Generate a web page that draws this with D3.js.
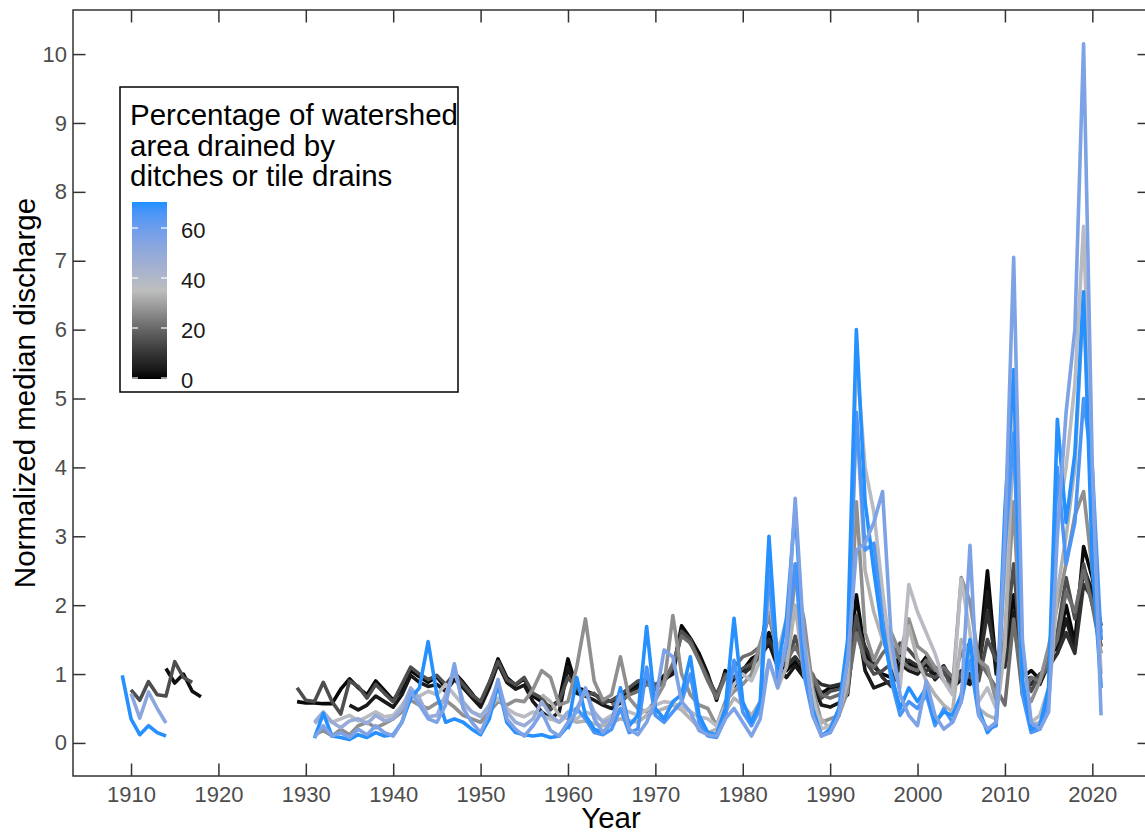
<!DOCTYPE html>
<html>
<head>
<meta charset="utf-8">
<script src="https://cdn.jsdelivr.net/npm/d3@7"></script>
<style>
  body { margin: 0; background: #fff; }
  svg { font-family: "Liberation Sans", Arial, sans-serif; }
</style>
</head>
<body>
<div id="chart"></div>
<script>

// ---- data: normalized median discharge per station, one value per year ----

// early records (1909-1918)
var e1 = [0.98, 0.35, 0.12, 0.25, 0.15, 0.10];
var e2 = [0.72, 0.36, 0.74, 0.50, 0.29];
var e3 = [0.77, 0.62, 0.89, 0.70, 0.68, 1.18, 0.95, 0.88];
var e4 = [1.08, 0.87, 1.00, 0.75, 0.67];

// black, 1929-2021
var m1 = [0.60,0.58,0.58,0.57,0.57,0.78,0.93,0.80,0.70,0.90, 0.76,0.62,0.78,1.05,0.96,0.88,0.96,0.80,1.02,0.88,
  0.72,0.55,0.86,1.22,0.95,0.84,0.93,0.68,0.60,0.52, 0.62,1.22,0.80,0.76,0.70,0.64,0.60,0.66,0.78,0.84,
  0.95,0.82,0.98,1.05,1.70,1.52,1.30,1.00,0.62,1.05, 0.88,1.05,1.22,1.30,1.60,1.20,1.05,1.18,1.00,0.92,
  0.72,0.80,0.82,0.90,2.15,1.30,1.10,1.00,0.95,1.30, 1.15,1.08,1.25,1.00,1.12,0.88,0.98,0.90,1.20,2.50,
  1.10,1.35,2.15,0.95,1.05,0.92,1.25,1.40,2.00,1.45, 2.85,2.40,1.70];
// black, 1935-2021
var m2 = [0.55,0.48,0.55,0.68,0.60,0.52,0.70,0.98,0.88,0.82, 0.85,0.75,0.92,0.80,0.66,0.52,0.80,1.15,0.88,0.78,
  0.84,0.60,0.45,0.35,0.45,1.10,0.72,0.68,0.62,0.55, 0.50,0.58,0.72,0.80,0.90,0.78,0.92,1.00,1.62,1.45,
  1.25,0.95,0.68,0.98,0.82,0.98,1.15,1.25,1.45,1.10, 0.95,1.12,0.95,0.85,0.55,0.52,0.58,0.70,1.85,1.05,
  0.80,0.85,0.90,1.15,1.05,1.00,1.15,0.92,1.05,0.80, 0.92,0.85,1.05,2.20,1.00,1.20,1.90,0.90,0.95,0.85,
  1.15,1.30,1.80,1.35,2.55,2.20,1.50];
// black, 1980-2021
var m3 = [1.00,1.10,1.28,1.50,1.25,1.12,1.25,1.08,0.95,0.85, 0.82,0.85,0.88,1.70,1.40,1.15,0.95,0.82,1.10,1.20,
  1.12,1.05,1.10,1.00,0.95,1.05,1.00,1.10,1.90,1.20, 1.10,1.70,1.05,0.85,1.00,1.10,1.30,1.60,1.30,2.30,
  2.10,1.40];
// dark grey, 1929-2021
var m4 = [0.80,0.62,0.60,0.88,0.60,0.42,0.90,0.82,0.65,0.85, 0.72,0.60,0.85,1.10,1.00,0.92,0.98,0.85,1.00,0.85,
  0.70,0.60,0.88,1.18,0.92,0.85,0.95,0.72,0.65,0.48, 0.62,0.95,0.80,0.70,0.72,0.58,0.62,0.70,0.80,0.90,
  0.92,0.85,0.90,1.10,1.62,1.50,1.20,0.95,0.70,1.00, 0.95,1.08,1.15,1.35,2.07,1.30,1.10,1.55,1.10,0.95,
  0.65,0.75,0.78,0.85,1.85,1.20,1.00,1.05,1.15,1.45, 1.35,1.20,1.00,0.95,1.05,0.80,1.00,0.95,0.90,1.50,
  1.20,1.40,2.60,1.00,0.75,1.00,1.05,1.60,2.40,1.80, 2.60,2.00,1.50];
// dark grey, 1965-2021
var m5 = [0.55,0.62,0.70,0.75,0.85,0.80,0.88,1.15,1.55,1.45, 1.20,0.90,0.65,0.95,1.10,1.25,1.30,1.40,1.85,1.30,
  1.20,1.40,1.15,1.00,0.70,0.65,0.70,0.80,1.60,1.20, 1.10,1.30,1.45,1.20,1.10,1.05,1.20,1.05,1.10,0.95,
  1.30,1.45,1.20,1.00,0.80,0.55,1.80,0.70,0.95,0.90, 1.20,1.50,2.20,1.90,2.50,2.00,1.30];
// mid grey, 1931-2021
var m6 = [0.12,0.18,0.10,0.20,0.12,0.25,0.30,0.22,0.28,0.35, 0.45,0.62,0.55,0.50,0.58,0.62,0.52,0.40,0.35,0.30,
  0.45,0.60,0.55,0.62,0.60,0.78,1.05,0.95,0.55,0.60, 1.10,1.80,0.90,0.62,0.70,1.25,0.65,0.50,0.45,0.62,
  0.85,1.85,1.00,0.70,0.55,0.50,0.25,0.60,0.75,0.85, 1.00,1.45,1.85,1.40,1.20,2.40,1.80,0.80,0.30,0.35,
  0.40,0.75,3.50,1.60,1.20,1.50,1.60,1.30,1.80,1.40, 1.30,1.10,0.90,0.80,2.40,2.05,1.20,1.10,0.60,1.60,
  3.50,0.80,0.60,0.90,1.40,2.00,2.60,3.30,3.65,2.50, 1.60];
// light grey, 1931-2021
var m7 = [0.28,0.40,0.30,0.35,0.40,0.32,0.38,0.45,0.38,0.40, 0.55,0.72,0.68,0.75,0.70,0.85,0.70,0.55,0.45,0.40,
  0.50,0.65,0.50,0.42,0.38,0.45,0.40,0.35,0.30,0.40, 0.35,0.45,0.40,0.32,0.40,0.50,0.45,0.40,0.48,0.55,
  0.60,0.58,0.52,0.45,0.38,0.35,0.25,0.55,0.85,1.00, 0.90,1.20,2.10,1.30,1.80,2.60,1.50,0.70,0.20,0.25,
  0.45,1.10,5.60,4.00,3.35,2.20,1.20,0.80,2.30,1.90, 1.60,1.30,0.90,0.70,2.38,1.60,0.60,0.80,0.50,2.50,
  5.20,1.00,0.30,0.40,0.80,3.20,4.00,5.20,7.50,3.60, 1.00];
// light grey, 1957-2021
var m8 = [0.70,0.60,0.40,0.35,0.30,0.32,0.28,0.25,0.30,0.35, 0.32,0.30,0.40,0.45,0.50,0.55,0.48,0.35,0.22,0.15,
  0.20,0.45,0.65,0.55,0.40,0.60,1.20,0.80,1.10,2.00, 1.00,0.50,0.35,0.20,0.40,0.90,4.80,2.50,1.90,1.50,
  1.20,0.90,1.70,1.20,0.90,0.70,0.55,0.45,1.50,1.30, 0.50,0.40,0.35,1.40,4.60,0.80,0.25,0.30,0.60,2.20,
  3.00,4.00,6.50,3.20,0.80];
// lavender, 1931-2021
var m9 = [0.08,0.25,0.10,0.15,0.08,0.20,0.12,0.25,0.15,0.10, 0.30,0.75,0.55,0.35,0.30,0.55,1.15,0.50,0.30,0.15,
  0.45,0.92,0.35,0.20,0.10,0.25,0.45,0.18,0.10,0.30, 0.45,0.80,0.35,0.15,0.30,0.70,0.20,0.12,0.30,0.60,
  1.35,1.25,0.60,0.45,0.18,0.12,0.10,0.35,0.50,0.30, 0.10,0.35,1.20,0.80,1.50,3.55,1.50,0.40,0.10,0.15,
  0.40,1.20,2.80,2.90,3.20,3.65,1.50,0.70,0.40,0.25, 0.90,0.40,0.20,0.30,0.60,2.87,0.40,0.20,0.30,3.00,
  7.05,1.50,0.30,0.20,0.45,3.00,4.80,6.00,10.15,4.00, 0.40];
// pale lavender, 1931-1965
var m10 = [0.30,0.45,0.30,0.22,0.32,0.35,0.28,0.40,0.32,0.35, 0.50,0.80,0.65,0.38,0.40,0.70,1.05,0.60,0.45,0.38,
  0.55,0.88,0.45,0.30,0.25,0.35,0.60,0.40,0.30,0.45, 0.50,0.75,0.45,0.30,0.35];
// blue, 1931-2021
var m11 = [0.07,0.43,0.10,0.08,0.05,0.12,0.08,0.15,0.10,0.12, 0.30,0.65,0.80,1.47,0.70,0.30,0.35,0.30,0.20,0.12,
  0.35,0.85,0.30,0.15,0.12,0.10,0.12,0.08,0.10,0.25, 0.95,0.40,0.20,0.15,0.30,0.80,0.25,0.40,1.69,0.50,
  0.35,0.60,0.70,1.25,0.40,0.15,0.12,0.50,1.81,0.60, 0.30,0.60,3.00,1.10,1.80,3.40,1.30,0.50,0.10,0.20,
  0.50,1.50,6.00,3.50,2.50,1.60,1.00,0.50,0.80,0.60, 0.80,0.30,0.45,0.40,0.70,1.50,0.50,0.15,0.30,3.40,
  5.42,0.90,0.20,0.25,0.80,4.70,3.20,4.20,6.55,2.60, 0.80];
// blue, 1960-2021
var m12 = [0.20,0.50,0.35,0.15,0.12,0.20,0.50,0.15,0.20,1.10, 0.40,0.30,0.45,0.60,1.00,0.30,0.10,0.08,0.35,1.20,
  0.45,0.25,0.50,2.50,0.90,1.40,2.60,1.00,0.40,0.12, 0.15,0.40,1.20,4.80,2.80,2.90,1.80,0.90,0.40,0.60,
  0.50,0.70,0.25,0.50,0.30,0.60,1.20,0.40,0.20,0.25, 2.80,4.50,0.70,0.15,0.20,0.60,4.00,2.60,3.20,5.00,
  4.00,1.50];

// which array, first year, and percent drained (in drawing order)
var seriesVals  = [e4, e3, m1, m2, m3, m4, m5, m6, m8, m7, m10, e2, m12, m11, e1, m9];
var seriesStart = [1914, 1910, 1929, 1935, 1980, 1929, 1965, 1931, 1957, 1931, 1931, 1910, 1960, 1931, 1909, 1931];
var seriesPct   = [2, 15, 1, 4, 9, 15, 21, 27, 33, 37, 48, 52, 66, 70, 70, 56];

var yTicks = [0, 1, 2, 3, 4, 5, 6, 7, 8, 9, 10];
var xTicks = [1910, 1920, 1930, 1940, 1950, 1960, 1970, 1980, 1990, 2000, 2010, 2020];
var pctTicks = [0, 20, 40, 60];
var legendTitle = ["Percentage of watershed", "area drained by", "ditches or tile drains"];

// ---- layout ----
var W = 1145, H = 836;
var panel = {left: 73, right: 1150, top: 10, bottom: 776};
var tickLen = 12.5;

var svg = d3.select("#chart").append("svg")
  .attr("width", W)
  .attr("height", H);

var x = d3.scaleLinear().domain([1903.36, 2026.6]).range([panel.left, panel.right]);
var y = d3.scaleLinear().domain([-0.48, 10.64]).range([panel.bottom, panel.top]);

// black -> grey -> dodgerblue
var color = d3.scaleLinear()
  .domain([0, 35, 70.4])
  .range(["#000000", "#bebebe", "#1e90ff"])
  .interpolate(d3.interpolateLab);

svg.append("clipPath").attr("id", "clip")
  .append("rect")
  .attr("x", panel.left).attr("y", panel.top)
  .attr("width", panel.right - panel.left).attr("height", panel.bottom - panel.top);

// lines
var line = d3.line()
  .x(d => x(d.year))
  .y(d => y(d.v));

var gLines = svg.append("g").attr("clip-path", "url(#clip)");

seriesVals.forEach(function(vals, i) {
  var pts = vals.map((v, j) => ({year: seriesStart[i] + j, v: v}));
  gLines.append("path")
    .datum(pts)
    .attr("d", line)
    .attr("fill", "none")
    .attr("stroke", color(seriesPct[i]))
    .attr("stroke-width", 3.6)
    .attr("stroke-linejoin", "round");
});

// panel border
svg.append("rect")
  .attr("x", panel.left).attr("y", panel.top)
  .attr("width", panel.right - panel.left).attr("height", panel.bottom - panel.top)
  .attr("fill", "none")
  .attr("stroke", "#333333")
  .attr("stroke-width", 1.5);

// axes, ticks pointing inward on all four sides
var axL = svg.append("g").attr("transform", "translate(" + panel.left + ",0)")
  .call(d3.axisLeft(y).tickValues(yTicks).tickSize(-tickLen).tickPadding(6));
var axR = svg.append("g").attr("transform", "translate(" + panel.right + ",0)")
  .call(d3.axisRight(y).tickValues(yTicks).tickSize(-tickLen).tickFormat(""));
var axB = svg.append("g").attr("transform", "translate(0," + panel.bottom + ")")
  .call(d3.axisBottom(x).tickValues(xTicks).tickSize(-tickLen).tickPadding(10).tickFormat(d3.format("d")));
var axT = svg.append("g").attr("transform", "translate(0," + panel.top + ")")
  .call(d3.axisTop(x).tickValues(xTicks).tickSize(-tickLen).tickFormat(""));

[axL, axR, axB, axT].forEach(function(ax) {
  ax.select(".domain").remove();
  ax.selectAll(".tick line").attr("stroke", "#333333").attr("stroke-width", 1.5);
  ax.selectAll(".tick text")
    .attr("fill", "#4d4d4d")
    .style("font-size", "22px")
    .style("font-family", "Liberation Sans, Arial, sans-serif");
});
axB.selectAll(".tick text").attr("dy", "0.71em");

// axis titles
svg.append("text")
  .attr("x", (panel.left + 1147) / 2 + 1)
  .attr("y", 828)
  .attr("text-anchor", "middle")
  .style("font-size", "29.5px")
  .text("Year");

svg.append("text")
  .attr("transform", "translate(35," + ((panel.top + panel.bottom) / 2 + 0) + ") rotate(-90)")
  .attr("text-anchor", "middle")
  .style("font-size", "29.5px")
  .text("Normalized median discharge");

// ---- legend ----
var lg = svg.append("g");

lg.append("rect")
  .attr("x", 120).attr("y", 87)
  .attr("width", 338).attr("height", 305)
  .attr("fill", "#fff")
  .attr("stroke", "#000")
  .attr("stroke-width", 1.5);

lg.selectAll("text.ttl")
  .data(legendTitle)
  .enter()
  .append("text")
  .attr("class", "ttl")
  .attr("x", 130)
  .attr("y", (d, i) => 125 + i * 30.5)
  .style("font-size", "29.5px")
  .text(d => d);

var bar = {x: 132, y: 202, w: 35, h: 177};
var pctY = d3.scaleLinear().domain([0, 70.4]).range([bar.y + bar.h - 1, bar.y]);

var grad = svg.append("defs").append("linearGradient")
  .attr("id", "pctgrad")
  .attr("x1", 0).attr("y1", 1).attr("x2", 0).attr("y2", 0);
d3.range(0, 1.0001, 0.05).forEach(function(t) {
  grad.append("stop")
    .attr("offset", t)
    .attr("stop-color", color(t * 70.4));
});

lg.append("rect")
  .attr("x", bar.x).attr("y", bar.y)
  .attr("width", bar.w).attr("height", bar.h)
  .attr("fill", "url(#pctgrad)");

pctTicks.forEach(function(p) {
  var yy = pctY(p);
  lg.append("line")
    .attr("x1", bar.x).attr("x2", bar.x + 6)
    .attr("y1", yy).attr("y2", yy)
    .attr("stroke", "#fff").attr("stroke-width", 1.2);
  lg.append("line")
    .attr("x1", bar.x + bar.w - 6).attr("x2", bar.x + bar.w)
    .attr("y1", yy).attr("y2", yy)
    .attr("stroke", "#fff").attr("stroke-width", 1.2);
  lg.append("text")
    .attr("x", 181)
    .attr("y", yy + 2)
    .attr("dy", "0.35em")
    .style("font-size", "22px")
    .attr("fill", "#1a1a1a")
    .text(p);
});

</script>
</body>
</html>
